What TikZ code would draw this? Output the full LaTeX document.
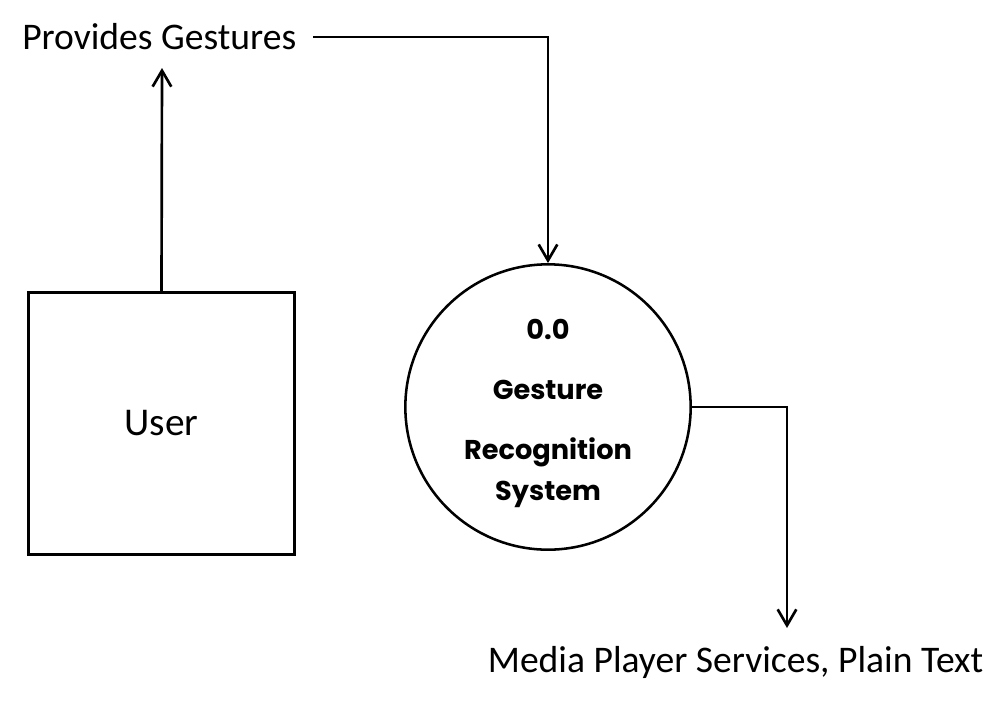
\documentclass[tikz,border=0pt]{standalone}
\usepackage{fontspec}
\setmainfont{Carlito}
\newfontfamily\gothicfont{Poppins}
\usetikzlibrary{arrows.meta,positioning,calc}

\tikzset{
  flow/.style={line width=2pt, -{Straight Barb[length=12pt,width=14pt,line width=2pt]}},
  entity/.style={draw, line width=2.2pt, minimum width=200pt, minimum height=196pt, inner sep=0pt},
  process/.style={draw, circle, line width=1.9pt, minimum size=214pt, inner sep=0pt},
  processtext/.style={align=center, yshift=-4.5pt,
    font=\gothicfont\bfseries\fontsize{20.4}{30.75}\selectfont},
  datalabel/.style={font=\fontsize{28.2}{32}\selectfont, inner sep=0pt}
}

\begin{document}
\begin{tikzpicture}[x=0.75pt, y=-0.75pt]
  \useasboundingbox (0,0) rectangle (1006,707);
  \node[entity] (user) at (161.5,423.5) {\fontsize{29.5}{34}\selectfont User};
  \node[process, label={[processtext]center:0.0\\[14.25pt]Gesture\\[14.25pt]Recognition\\System}]
    (grs) at (548,407) {};
  \node[datalabel, anchor=west] (gestures) at (22,37) {Provides Gestures};
  \node[datalabel] (media) at (735.5,662) {Media Player Services, Plain Text};
  \coordinate (up) at (162,68);
  \coordinate (out) at (787,628);
  \draw[flow] (user.north) -- (up);
  \draw[flow] ([xshift=12.75pt]gestures.east) -| (grs.north);
  \draw[flow] (grs.east) -| (out);
\end{tikzpicture}
\end{document}
